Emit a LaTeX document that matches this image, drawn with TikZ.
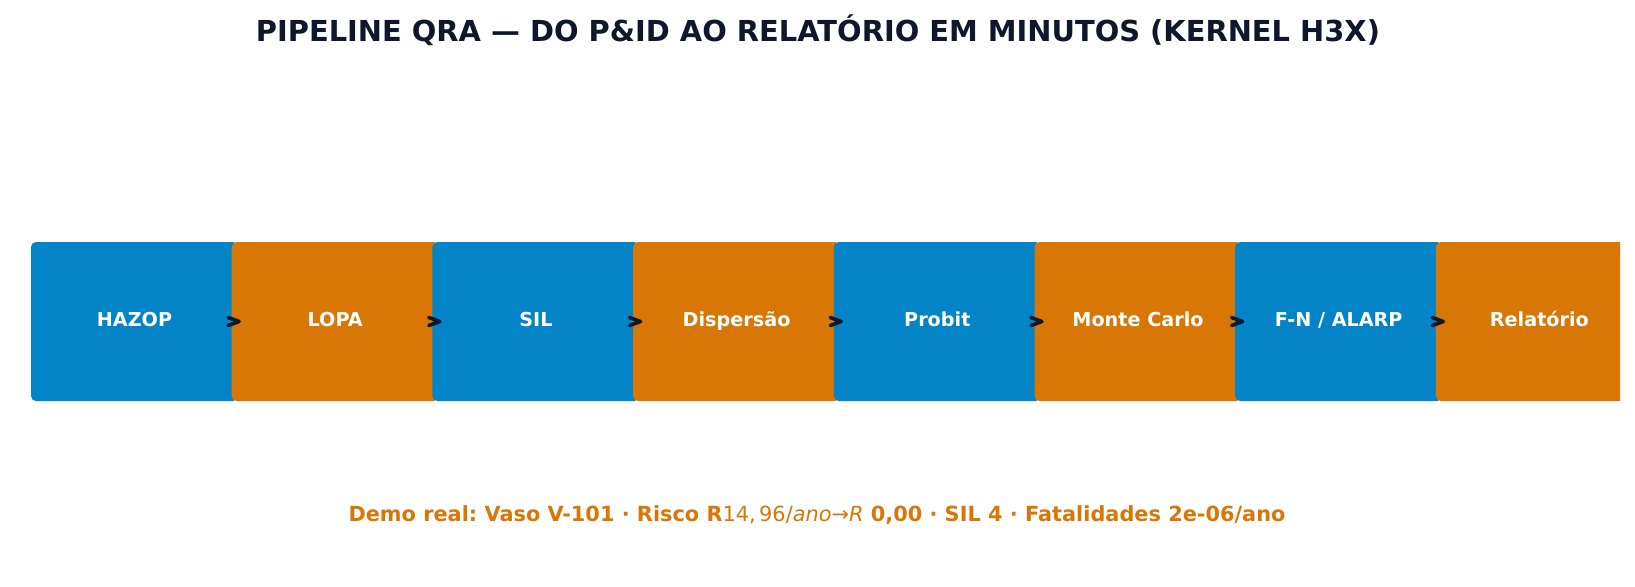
\documentclass[tikz,border=0pt]{standalone}
\usepackage{fontspec}
\setmainfont{DejaVu Sans}
\frenchspacing
\definecolor{qblue}{HTML}{0284C7}
\definecolor{qorange}{HTML}{D97706}
\definecolor{qnavy}{HTML}{0F172A}
\tikzset{
  stage/.style={rectangle, rounded corners=2.5pt, inner sep=0pt,
    minimum width=103.5pt, minimum height=79.5pt, text=white,
    text height=0.76em, text depth=0.24em,
    font=\fontsize{9.6}{11}\selectfont\bfseries},
  bluestage/.style={stage, fill=qblue},
  orangestage/.style={stage, fill=qorange},
  chev/.style={draw=qnavy, line width=1.8pt, line cap=round, line join=round},
  titletext/.style={text=qnavy, font=\fontsize{14.45}{17}\selectfont\bfseries, inner sep=0pt, anchor=base},
  demotext/.style={text=qorange, font=\fontsize{10.43}{12}\selectfont, inner sep=0pt, anchor=base}
}
\begin{document}
\begin{tikzpicture}[x=0.5pt, y=-0.5pt]
\useasboundingbox[fill=white] (0,0) rectangle (1635,586);
\node[titletext] (title) at (818,41.7) {PIPELINE QRA — DO P\&ID AO RELATÓRIO EM MINUTOS (KERNEL H3X)};
\begin{scope}
\clip (0,0) rectangle (1620,586);
\node[bluestage]   (n1) at (134.5,321.5) {HAZOP};
\node[orangestage] (n2) at (335.2,321.5) {LOPA};
\node[bluestage]   (n3) at (535.9,321.5) {SIL};
\node[orangestage] (n4) at (736.6,321.5) {Dispersão};
\node[bluestage]   (n5) at (937.3,321.5) {Probit};
\node[orangestage] (n6) at (1138.0,321.5) {Monte Carlo};
\node[bluestage]   (n7) at (1338.7,321.5) {F-N / ALARP};
\node[orangestage] (n8) at (1539.4,321.5) {Relatório};
\end{scope}
\foreach \a/\b in {n1/n2,n2/n3,n3/n4,n4/n5,n5/n6,n6/n7,n7/n8}{
  \draw[chev] ([xshift=-1.6pt,yshift=2pt]\b.west) -- ([xshift=3.9pt]\b.west) -- ([xshift=-1.6pt,yshift=-2pt]\b.west);
}
\node[demotext] (demo) at (817,521) {\textbf{Demo real: Vaso V-101 · Risco R}14,\,96/\textit{ano}→\textit{R}\textbf{ 0,00 · SIL 4 · Fatalidades 2e-06/ano}};
\end{tikzpicture}
\end{document}
